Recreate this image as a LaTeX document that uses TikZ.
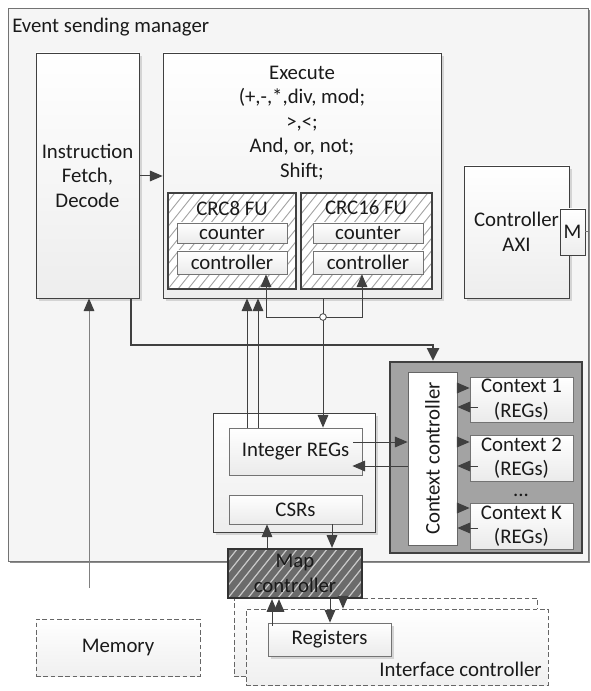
\documentclass[tikz,border=0pt]{standalone}
\usepackage{fontspec}
\setmainfont{Carlito}
\usetikzlibrary{arrows.meta,fit,shadows,calc}
\definecolor{ln}{HTML}{404040}
\definecolor{txt}{HTML}{1A1A1A}
\definecolor{shd}{HTML}{D4D4D4}
\begin{document}
\begin{tikzpicture}[x=0.75pt,y=-0.75pt,
  font=\fontsize{15.6}{18.4}\selectfont, text=txt,
  lbl/.style={label={[align=center, inner sep=0pt]center:#1}},
  box/.style={draw=ln, line width=0.6pt, inner sep=0pt,
    top color=white, bottom color=black!7},
  shadowed/.style={drop shadow={shadow xshift=2.6pt, shadow yshift=-2.6pt,
    fill=shd, opacity=1}},
  subbox/.style={draw=black!55, line width=0.6pt, inner sep=0pt,
    top color=white, bottom color=black!8},
  hatchbox/.style={draw=ln, line width=1.7pt, inner sep=0pt, fill=white,
    path picture={
      \foreach \k in {-10,...,15}
        \draw[black!35, line width=0.7pt]
          ($(path picture bounding box.south west)+(\k*10,0)$) -- ++(100,-125);}},
  darkhatch/.style={draw=black!80, line width=1.7pt, inner sep=0pt, fill=black!58,
    path picture={
      \foreach \k in {-10,...,15}
        \draw[black!22, line width=0.9pt]
          ($(path picture bounding box.south west)+(\k*10,0)$) -- ++(100,-125);}},
  dashbox/.style={draw=black!60, dashed, dash pattern=on 3.5pt off 2pt,
    line width=0.6pt, inner sep=0pt, top color=white, bottom color=black!6},
  arr/.style={draw=ln, line width=0.75pt,
    -{Triangle[length=9.5pt,width=8pt,color=ln]}},
  conn/.style={draw=ln, line width=0.75pt},
  thickarr/.style={draw=ln, line width=1.6pt, -{Triangle[length=9.5pt,width=9pt]}},
]
\useasboundingbox (0,0) rectangle (590,691);

% event sending manager frame
\node[draw=black!55, line width=0.7pt, fill=black!4, inner sep=0pt,
  drop shadow={shadow xshift=1.2pt, shadow yshift=-1.2pt, fill=black!45, opacity=1},
  fit={(8,8)(588,561)}] (esm) {};
\node[anchor=west, inner sep=0pt] (esmtitle) at (12,27) {Event sending manager};

% fetch / decode
\node[box, shadowed, fit={(36,53)(139,298)}, lbl={Instruction\\Fetch,\\Decode}] (ifd) {};

% execute unit
\node[box, shadowed, fit={(163,53)(441,298)}] (exe) {};
\node[align=center, inner sep=0pt] (exetxt) at (302,123)
  {Execute\\(+,-,*,div, mod;\\>,<;\\And, or, not;\\Shift;};

% CRC functional units
\node[hatchbox, fit={(168,193)(296,289)}] (c8) {};
\node[inner sep=0pt] (c8t) at (232,208) {CRC8 FU};
\node[subbox, fit={(177,223)(287,243)}, lbl=counter] (c8cnt) {};
\node[subbox, fit={(177,251)(287,274)}, lbl=controller] (c8ctl) {};
\node[hatchbox, fit={(301,193)(432,289)}] (c16) {};
\node[inner sep=0pt] (c16t) at (366,208) {CRC16 FU};
\node[subbox, fit={(313,223)(423,243)}, lbl=counter] (c16cnt) {};
\node[subbox, fit={(313,251)(423,274)}, lbl=controller] (c16ctl) {};

% AXI controller and its master port
\node[box, shadowed, fit={(464,166)(569,298)}, lbl={Controller\\AXI}] (axi) {};
\node[box, fit={(560,209)(585,255)}, lbl=M] (mport) {};
\draw[conn, draw=black!55] (mport.east) -- (esm.east |- mport.east);

% register file group
\node[box, shadowed, fit={(213,413)(375,532)}] (rgrp) {};
\node[subbox, fit={(229,428)(362,475)}, lbl={Integer REGs}] (intr) {};
\node[subbox, fit={(229,495)(362,524)}, lbl=CSRs] (csr) {};

% context switching block
\node[draw=ln, line width=1.8pt, fill=black!36, inner sep=0pt,
  fit={(390,362)(582,553)}] (ctxr) {};
\node[draw=black!60, line width=0.6pt, fill=white, inner sep=0pt,
  fit={(408,372)(457,545)},
  label={[rotate=90, inner sep=0pt]center:Context controller}] (cctl) {};
\node[subbox, fit={(470,377)(573,422)}, lbl={Context 1\\(REGs)}] (cx1) {};
\node[subbox, fit={(470,435)(573,481)}, lbl={Context 2\\(REGs)}] (cx2) {};
\node[anchor=base, inner sep=0pt, text height=3pt, text depth=0pt] (dots)
  at (521,496) {...};
\node[subbox, fit={(470,503)(573,549)}, lbl={Context K\\(REGs)}] (cxk) {};

% memory and interface controllers
\node[dashbox, fit={(36,619)(200,676)}, lbl=Memory] (mem) {};
\node[dashbox, fit={(234,598)(537,676)}] (ifb) {};
\node[dashbox, fit={(246,609)(548,685)}] (iff) {};
\node[anchor=base east, inner sep=0pt] (ift) at (542,676) {Interface controller};
\node[subbox, shadowed, fit={(268,623)(391,656)}, lbl=Registers] (reg) {};

% map controller
\node[darkhatch, fit={(228,549)(362,598)}, lbl={Map\\controller}] (map) {};

% ---- connectors ----
\draw[arr] (ifd.east |- 0,176) -- (exe.west |- 0,176);

\coordinate (jn) at (323,317);
\draw[conn] (exe.south -| jn) -- (jn);
\draw[arr] (jn) -- (intr.north -| jn);
\draw[arr] (jn) -| (c8ctl.south -| 266,0);
\draw[arr] (jn) -| (c16ctl.south -| 362,0);
\node[circle, draw=ln, fill=white, line width=0.6pt, inner sep=0pt,
  minimum size=5pt] (jc) at (jn) {};

\draw[arr] (intr.north -| 247,0) -- (exe.south -| 247,0);
\draw[arr] (intr.north -| 258,0) -- (exe.south -| 258,0);

\coordinate (bend) at (433,345);
\draw[thickarr] (ifd.south -| 131,0) |- (bend) -- (ctxr.north -| bend);

\draw[arr] ($(intr.east |- 0,442)+(-9,0)$) -- (cctl.west |- 0,442);
\draw[arr] (cctl.west |- 0,466) -- ($(intr.east |- 0,466)+(-10,0)$);

\draw[arr] (cctl.east |- 0,388) -- (cx1.west |- 0,388);
\draw[arr] ($(cx1.west |- 0,407)+(8,0)$) -- (cctl.east |- 0,407);
\draw[arr] (cctl.east |- 0,442) -- (cx2.west |- 0,442);
\draw[arr] ($(cx2.west |- 0,466)+(8,0)$) -- (cctl.east |- 0,466);
\draw[arr] (cctl.east |- 0,508) -- (cxk.west |- 0,508);
\draw[arr] ($(cxk.west |- 0,528)+(8,0)$) -- (cctl.east |- 0,528);

\draw[arr] (map.north -| 267,0) -- (csr.south -| 267,0);
\draw[arr] (csr.south -| 332,0) -- (map.north -| 332,0);

\draw[arr] ($(reg.north -| 272,0)+(0,3)$) -- (map.south -| 272,0);
\draw[arr] (iff.north -| 279,0) -- (map.south -| 279,0);
\draw[arr] (map.south -| 330,0) -- (reg.north -| 330,0);
\draw[arr] (map.south -| 343,0) -- (iff.north -| 343,0);

\coordinate (memtop) at (89,588);
\draw[arr, draw=black!50] (memtop) -- (ifd.south -| memtop);
\end{tikzpicture}
\end{document}
